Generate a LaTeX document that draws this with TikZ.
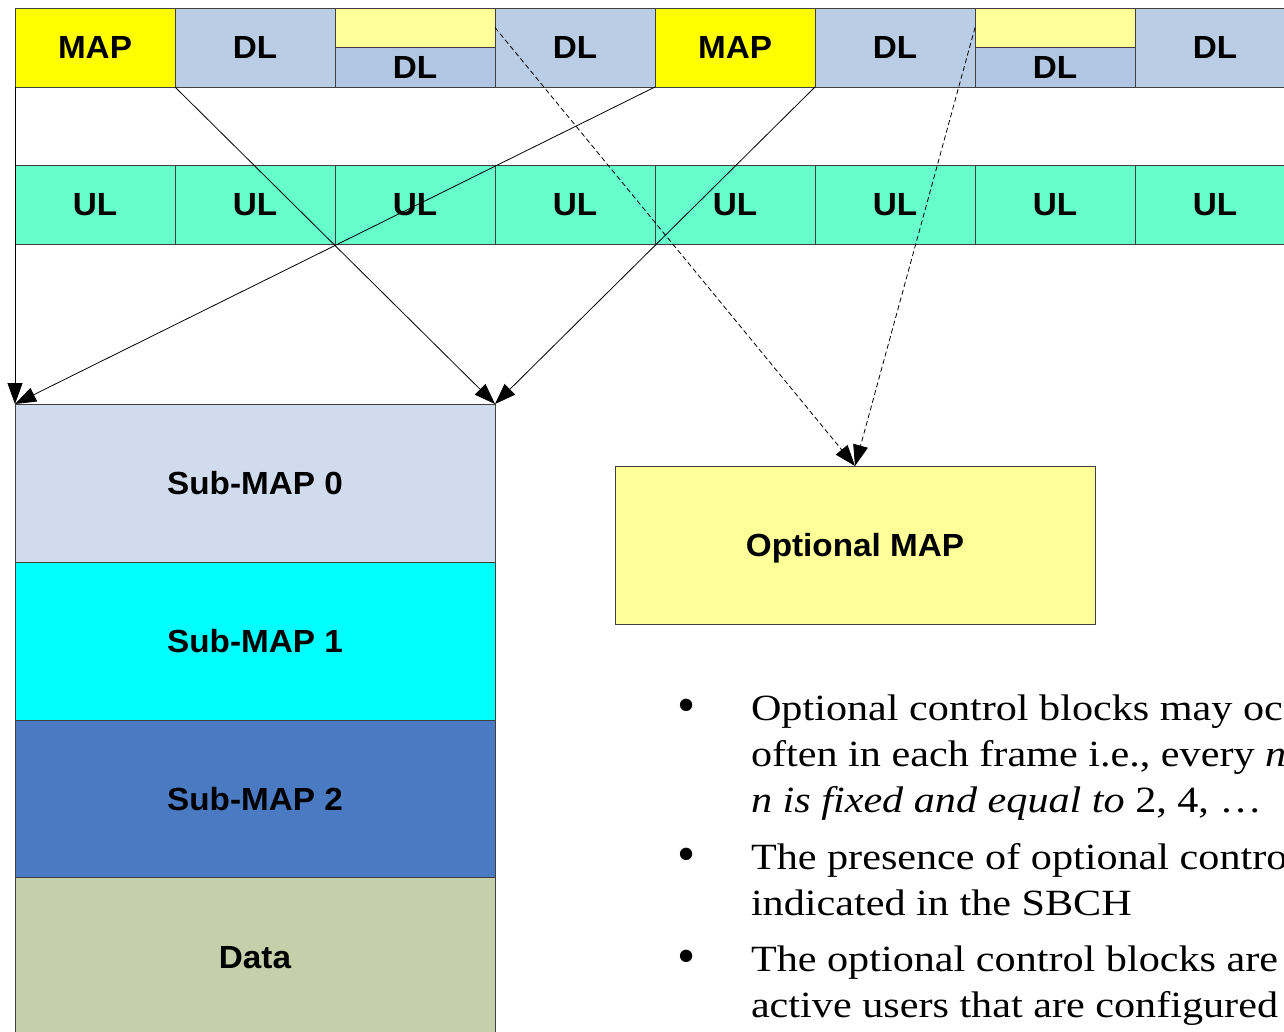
\documentclass[tikz,border=0pt]{standalone}
\usepackage{graphicx}
\usepackage{fontspec}
\setmainfont{Liberation Serif}
\setsansfont{Liberation Sans}
\usetikzlibrary{arrows.meta}
\definecolor{mapY}{HTML}{FFFF00}
\definecolor{optY}{HTML}{FFFF99}
\definecolor{dlB}{HTML}{B9CDE5}
\definecolor{dlBb}{HTML}{B0C6E3}
\definecolor{ulG}{HTML}{66FFCC}
\definecolor{smA}{HTML}{D0DCEE}
\definecolor{smB}{HTML}{00FFFF}
\definecolor{smC}{HTML}{4A7AC1}
\definecolor{dataC}{HTML}{C6CFAA}
\newcommand{\sx}[1]{\scalebox{1.04}[1]{#1}}
\newcommand{\tx}[1]{\scalebox{1.14}[1]{#1}}
\tikzset{
  cell/.style={draw=black!75, line width=0.8pt, rectangle, inner sep=0pt, outer sep=0pt,
    anchor=north west, minimum width=160pt, minimum height=79pt, text depth=0pt,
    font=\sffamily\bfseries\fontsize{32}{36}\selectfont},
  halfcell/.style={cell, minimum height=39pt},
  bigbox/.style={cell, minimum width=480pt, minimum height=158pt},
  conn/.style={draw=black, line width=0.8pt, -{Triangle[length=21pt,width=15pt]}},
  dashconn/.style={conn, dash pattern=on 5pt off 3pt},
  bline/.style={anchor=base west, inner sep=0pt, outer sep=0pt, font=\rmfamily\fontsize{37}{44}\selectfont},
  bdot/.style={anchor=center, inner sep=0pt, outer sep=0pt, font=\rmfamily\fontsize{37}{44}\selectfont}
}
\begin{document}
\begin{tikzpicture}[x=1pt, y=-1pt]
\useasboundingbox (0,0) rectangle (1284,1032);
\fill[white] (0,0) rectangle (1284,1032);
\clip (0,0) rectangle (1284,1032);
% top row
\node[cell, fill=mapY] (map1) at (15,8) {\sx{MAP}};
\node[cell, fill=dlB] (dl1) at (175,8) {\sx{DL}};
\node[halfcell, fill=optY] (opt1) at (335,8) {};
\node[cell, fill=dlBb, minimum height=40pt] (dl2) at (335,47) {\sx{DL}};
\node[cell, fill=dlB] (dl3) at (495,8) {\sx{DL}};
\node[cell, fill=mapY] (map2) at (655,8) {\sx{MAP}};
\node[cell, fill=dlB] (dl4) at (815,8) {\sx{DL}};
\node[halfcell, fill=optY] (opt2) at (975,8) {};
\node[cell, fill=dlBb, minimum height=40pt] (dl5) at (975,47) {\sx{DL}};
\node[cell, fill=dlB] (dl6) at (1135,8) {\sx{DL}};
% UL row
\foreach \k in {0,...,7}
  \node[cell, fill=ulG] (ul\k) at ({15+160*\k},165) {\sx{UL}};
% sub-map stack
\node[bigbox, fill=smA] (sub0) at (15,404) {\sx{Sub-MAP 0}};
\node[bigbox, fill=smB] (sub1) at (15,562) {\sx{Sub-MAP 1}};
\node[bigbox, fill=smC, minimum height=157pt] (sub2) at (15,720) {\sx{Sub-MAP 2}};
\node[bigbox, fill=dataC, minimum height=160pt] (data) at (15,877) {\sx{Data}};
% optional map
\node[bigbox, fill=optY] (optmap) at (615,466) {\sx{Optional MAP}};
% connectors
\draw[conn] (map1.south west) -- (sub0.north west);
\draw[conn] (dl1.south west) -- (sub0.north east);
\draw[conn] (map2.south west) -- (sub0.north west);
\draw[conn] (map2.south east) -- (sub0.north east);
\draw[dashconn] (opt1.east) -- (optmap.north);
\draw[dashconn] (opt2.west) -- (optmap.north);
% bullet text
\node[bdot] (d1) at (687,711) {\scalebox{1.4}{•}};
\node[bline] (t1a) at (751,720) {\tx{Optional control blocks may oc}};
\node[bline] (t1b) at (751,766) {\tx{often in each frame i.e., every \textit{n}}};
\node[bline] (t1c) at (751,812) {\tx{\textit{n is fixed and equal to} 2, 4, …}};
\node[bdot] (d2) at (687,860) {\scalebox{1.4}{•}};
\node[bline] (t2a) at (751,869) {\tx{The presence of optional contro}};
\node[bline] (t2b) at (751,915) {\tx{indicated in the SBCH}};
\node[bdot] (d3) at (687,962) {\scalebox{1.4}{•}};
\node[bline] (t3a) at (751,971) {\tx{The optional control blocks are}};
\node[bline] (t3b) at (751,1017) {\tx{active users that are configured}};
\end{tikzpicture}
\end{document}
